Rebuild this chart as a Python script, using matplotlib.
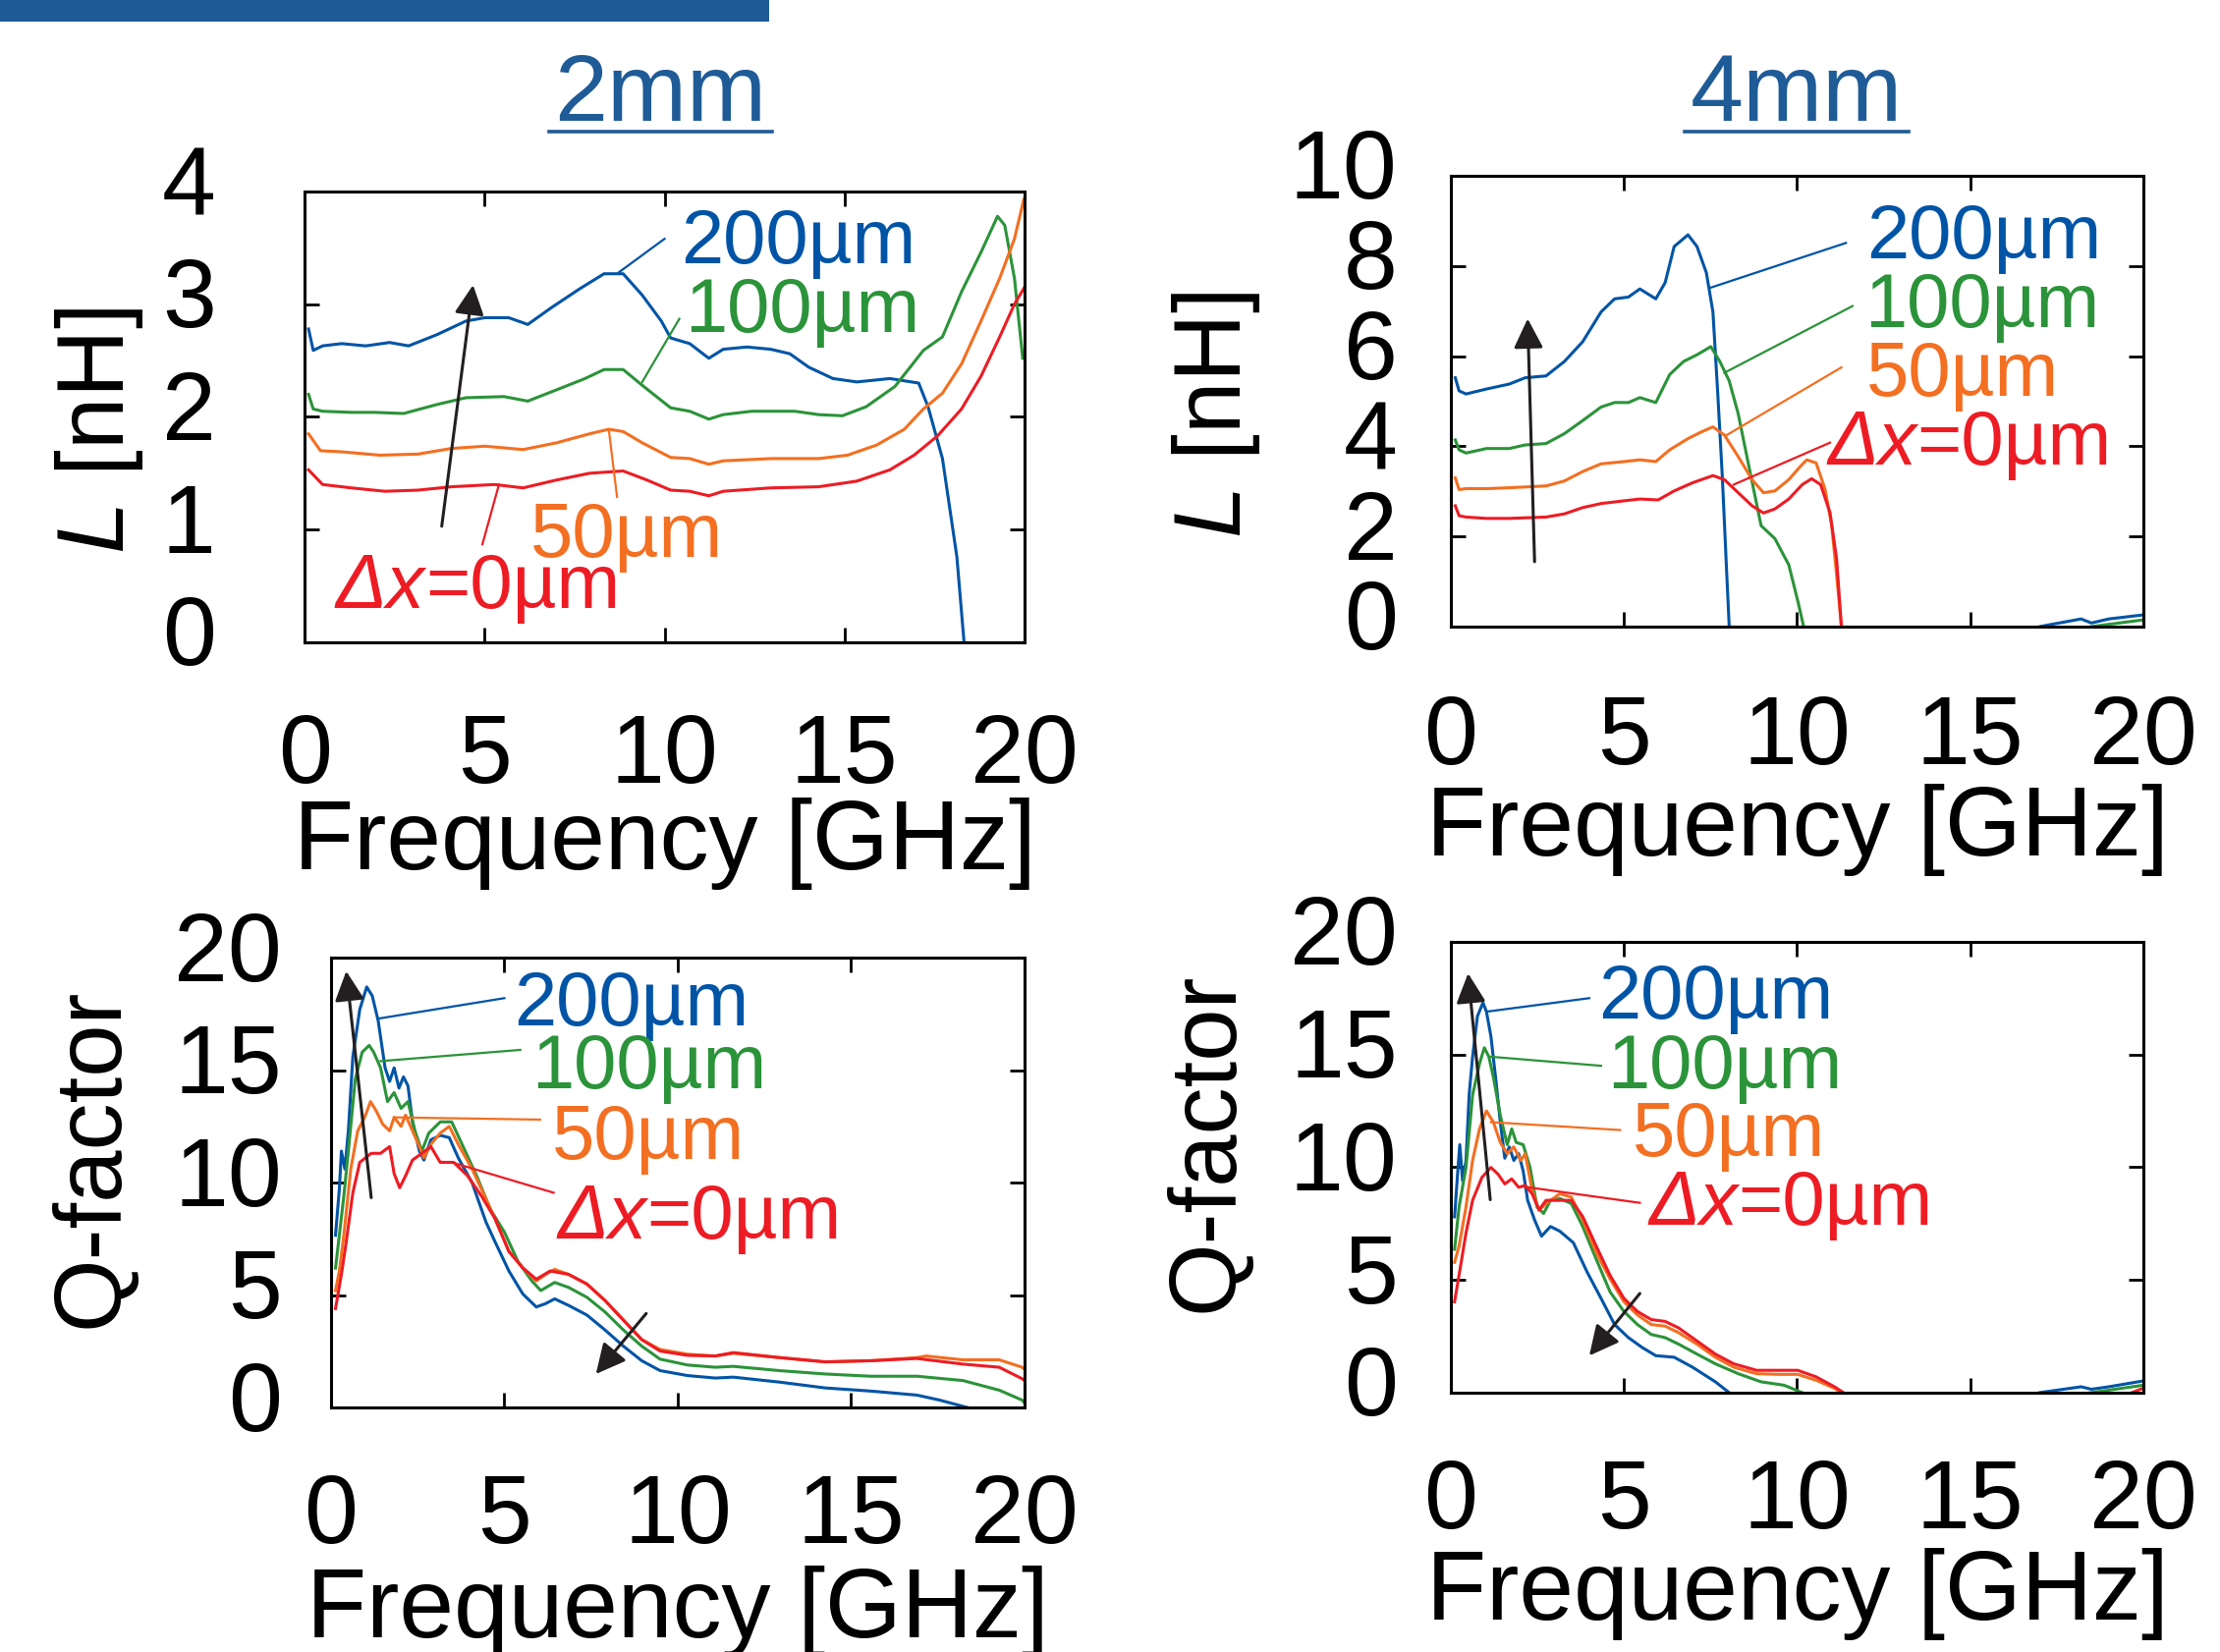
import matplotlib
matplotlib.use("Agg")
import matplotlib.pyplot as plt
import matplotlib.transforms as mtransforms
from matplotlib.patches import Rectangle
from matplotlib.lines import Line2D

plt.rcParams['font.family'] = ['Liberation Sans', 'DejaVu Sans']
plt.rcParams['mathtext.fontset'] = 'custom'
plt.rcParams['mathtext.rm'] = 'Liberation Sans'
plt.rcParams['mathtext.it'] = 'Liberation Sans:italic'

BLUE = '#0054A6'
GREEN = '#2B9339'
ORANGE = '#F36F21'
RED = '#ED1C24'
NAVY = '#1F5B96'
INK = '#231F20'

freq_ticks = [0, 5, 10, 15, 20]
gap_labels = ["200µm", "100µm", "50µm", "=0µm"]

# ---- 2 mm, inductance [nH] ----
f_L2_200 = [0.11, 0.24, 0.50, 1.03, 1.70, 2.36, 2.89, 3.68, 4.48, 5.01, 5.67, 6.20, 6.86, 7.66, 8.32, 8.85,
            9.38, 9.91, 10.17, 10.70, 11.23, 11.63, 12.29, 12.95, 13.48, 14.01, 14.68, 15.34, 16.26, 17.06,
            17.32, 17.72, 18.12, 18.32, 18.45]
L2_200 = [2.78, 2.59, 2.63, 2.65, 2.63, 2.66, 2.63, 2.73, 2.85, 2.88, 2.88, 2.82, 2.97, 3.14, 3.27, 3.27,
          3.08, 2.85, 2.70, 2.65, 2.52, 2.60, 2.62, 2.60, 2.56, 2.44, 2.34, 2.31, 2.34, 2.30,
          2.09, 1.63, 0.76, 0.00, -0.60]
f_L2_100 = [0.11, 0.24, 0.50, 1.30, 1.96, 2.75, 3.68, 4.48, 5.54, 6.20, 7.00, 7.79, 8.32, 8.85, 9.38, 10.17,
            10.70, 11.23, 11.63, 12.42, 13.62, 14.28, 14.94, 15.60, 16.40, 17.19, 17.72, 18.25, 18.79, 19.25,
            19.45, 19.72, 19.95]
L2_100 = [2.20, 2.07, 2.05, 2.04, 2.04, 2.03, 2.11, 2.17, 2.18, 2.14, 2.24, 2.34, 2.42, 2.42, 2.28, 2.08,
          2.05, 1.98, 2.02, 2.05, 2.05, 2.02, 2.01, 2.09, 2.27, 2.59, 2.71, 3.11, 3.46, 3.78,
          3.70, 3.23, 2.52]
f_L2_50 = [0.11, 0.44, 1.03, 2.09, 3.15, 4.08, 5.01, 6.07, 7.00, 7.92, 8.45, 8.85, 9.38, 10.17, 10.70, 11.23,
           11.63, 12.95, 14.28, 15.08, 15.89, 16.66, 17.19, 17.72, 18.25, 18.79, 19.31, 19.72, 19.98]
L2_50 = [1.85, 1.70, 1.69, 1.66, 1.67, 1.72, 1.74, 1.71, 1.77, 1.85, 1.89, 1.87, 1.77, 1.64, 1.63, 1.58,
         1.61, 1.63, 1.63, 1.66, 1.75, 1.89, 2.07, 2.21, 2.47, 2.85, 3.23, 3.58, 3.93]
f_L2_0 = [0.11, 0.50, 1.30, 2.23, 3.15, 4.08, 5.27, 6.07, 7.00, 7.92, 8.85, 9.51, 10.17, 10.70, 11.23, 11.63,
          12.95, 14.28, 15.34, 16.26, 16.93, 17.58, 18.25, 18.79, 19.31, 19.72, 19.98]
L2_0 = [1.53, 1.40, 1.37, 1.34, 1.35, 1.38, 1.40, 1.37, 1.44, 1.50, 1.52, 1.44, 1.35, 1.34, 1.30, 1.34,
        1.37, 1.38, 1.43, 1.53, 1.66, 1.83, 2.07, 2.36, 2.71, 3.00, 3.14]

# ---- 4 mm, inductance [nH] ----
f_L4_200 = [0.13, 0.24, 0.44, 1.03, 1.69, 2.15, 2.75, 3.28, 3.81, 4.34, 4.73, 5.13, 5.46, 5.92, 6.19, 6.45,
            6.85, 7.11, 7.38, 7.57, 7.71, 7.84, 7.97, 8.04, 8.15, 16.5, 17.0, 18.2, 18.5, 19.0, 20.0]
L4_200 = [5.52, 5.23, 5.16, 5.27, 5.38, 5.52, 5.56, 5.88, 6.32, 6.98, 7.27, 7.31, 7.49, 7.27, 7.63, 8.43,
          8.69, 8.43, 7.85, 6.98, 5.16, 3.34, 1.15, 0.00, -1.00, -0.30, 0.00, 0.17, 0.08, 0.17, 0.26]
f_L4_100 = [0.13, 0.24, 0.44, 1.03, 1.69, 2.15, 2.75, 3.28, 3.81, 4.34, 4.73, 5.13, 5.46, 5.92, 6.32, 6.72,
            7.11, 7.51, 7.77, 8.04, 8.30, 8.57, 8.96, 9.36, 9.76, 10.02, 10.19, 10.30, 18.0, 18.5, 20.0]
L4_100 = [4.14, 3.92, 3.85, 3.95, 3.95, 4.03, 4.06, 4.28, 4.57, 4.87, 4.97, 4.97, 5.08, 4.97, 5.59, 5.88,
          6.03, 6.21, 5.88, 5.45, 4.72, 3.70, 2.24, 1.95, 1.37, 0.57, 0.00, -0.50, -0.10, 0.00, 0.15]
f_L4_50 = [0.13, 0.24, 0.44, 1.03, 1.69, 2.75, 3.28, 3.81, 4.34, 5.00, 5.46, 5.92, 6.32, 6.85, 7.24, 7.57,
           7.90, 8.30, 8.70, 9.03, 9.36, 9.76, 10.09, 10.28, 10.55, 10.81, 11.00, 11.14, 11.28, 11.35]
L4_50 = [3.30, 3.04, 3.06, 3.06, 3.08, 3.12, 3.23, 3.44, 3.61, 3.66, 3.70, 3.66, 3.92, 4.17, 4.32, 4.43,
         4.25, 3.77, 3.26, 2.97, 3.01, 3.26, 3.55, 3.70, 3.63, 3.04, 2.24, 1.15, 0.00, -0.50]
f_L4_0 = [0.13, 0.24, 0.44, 1.03, 1.69, 2.75, 3.28, 3.81, 4.34, 5.00, 5.46, 5.99, 6.45, 6.98, 7.57, 7.90,
          8.30, 8.70, 9.03, 9.36, 9.76, 10.15, 10.42, 10.68, 10.95, 11.14, 11.28, 11.35]
L4_0 = [2.68, 2.46, 2.43, 2.40, 2.40, 2.43, 2.50, 2.64, 2.73, 2.79, 2.83, 2.81, 3.01, 3.19, 3.35, 3.26,
        2.97, 2.68, 2.52, 2.61, 2.83, 3.15, 3.28, 3.15, 2.53, 1.51, 0.00, -0.50]

# ---- 2 mm, Q-factor ----
f_Q2_200 = [0.13, 0.24, 0.30, 0.40, 0.50, 0.63, 0.83, 1.03, 1.19, 1.36, 1.56, 1.69, 1.82, 1.96, 2.09, 2.22,
            2.35, 2.55, 2.68, 2.88, 3.15, 3.41, 3.67, 4.07, 4.47, 4.73, 5.13, 5.53, 5.92, 6.19, 6.45, 6.85,
            7.38, 7.90, 8.43, 8.96, 9.49, 10.28, 11.08, 11.60, 12.93, 14.25, 15.57, 16.90, 17.55, 18.35, 18.60]
Q2_200 = [7.66, 9.70, 11.40, 10.60, 12.30, 15.60, 17.70, 18.70, 18.30, 17.20, 15.10, 14.50, 15.10, 14.20,
          14.70, 14.30, 12.70, 11.40, 11.00, 11.90, 12.10, 12.00, 11.10, 9.99, 8.24, 7.37, 6.07, 5.05, 4.47,
          4.62, 4.83, 4.54, 4.11, 3.45, 2.73, 2.08, 1.64, 1.42, 1.31, 1.35, 1.13, 0.87, 0.73, 0.55, 0.33,
          0.00, -0.10]
f_Q2_100 = [0.13, 0.24, 0.37, 0.50, 0.70, 0.90, 1.10, 1.23, 1.43, 1.63, 1.82, 2.02, 2.22, 2.42, 2.62, 2.82,
            3.15, 3.48, 3.81, 4.20, 4.60, 5.00, 5.39, 5.79, 6.05, 6.45, 6.85, 7.38, 7.90, 8.43, 8.96, 9.49,
            10.28, 11.08, 11.60, 12.93, 14.25, 15.57, 16.90, 18.22, 19.27, 19.93, 20.00]
Q2_100 = [6.20, 7.66, 9.40, 11.40, 14.60, 15.80, 16.10, 15.80, 15.10, 13.60, 14.00, 13.30, 13.60, 12.30,
          11.40, 12.20, 12.70, 12.70, 11.60, 10.30, 8.80, 7.80, 6.50, 5.63, 5.20, 5.56, 5.34, 4.90, 4.25,
          3.45, 2.73, 2.15, 1.89, 1.79, 1.83, 1.64, 1.49, 1.39, 1.39, 1.20, 0.77, 0.33, 0.20]
f_Q2_50 = [0.13, 0.24, 0.37, 0.57, 0.77, 0.97, 1.14, 1.30, 1.49, 1.69, 1.82, 2.02, 2.15, 2.35, 2.55, 2.68,
           2.88, 3.15, 3.41, 3.67, 4.07, 4.47, 4.73, 5.13, 5.53, 5.92, 6.19, 6.45, 6.85, 7.38, 7.90, 8.43,
           8.96, 9.49, 10.28, 11.08, 11.60, 12.93, 14.25, 15.57, 16.90, 17.16, 18.22, 19.27, 19.93, 20.00]
Q2_50 = [5.20, 6.07, 7.66, 10.60, 12.30, 12.90, 13.60, 13.20, 12.60, 12.30, 12.90, 12.50, 13.00, 12.30,
         11.60, 11.10, 11.70, 12.20, 12.50, 11.70, 10.60, 9.26, 8.39, 6.94, 6.21, 5.63, 5.92, 6.14, 5.92,
         5.49, 4.76, 3.89, 3.02, 2.58, 2.37, 2.29, 2.41, 2.22, 2.03, 2.08, 2.22, 2.29, 2.12, 2.12, 1.79, 1.70]
f_Q2_0 = [0.13, 0.30, 0.44, 0.63, 0.83, 1.16, 1.43, 1.69, 1.82, 1.98, 2.15, 2.35, 2.62, 2.88, 3.15, 3.54,
          3.94, 4.34, 4.73, 5.13, 5.53, 5.92, 6.32, 6.85, 7.38, 7.90, 8.43, 8.96, 9.49, 10.28, 11.08, 11.60,
          12.93, 14.25, 15.57, 16.90, 18.22, 19.27, 19.93, 20.00]
Q2_0 = [4.40, 5.92, 7.37, 9.55, 10.90, 11.30, 11.30, 11.60, 10.40, 9.77, 10.30, 11.00, 11.30, 11.60, 10.90,
        10.90, 10.30, 9.40, 8.40, 6.94, 6.21, 5.70, 6.07, 5.92, 5.49, 4.76, 3.89, 3.02, 2.51, 2.32, 2.29,
        2.44, 2.22, 2.03, 2.08, 2.18, 1.93, 1.79, 1.28, 1.20]

# ---- 4 mm, Q-factor ----
f_Q4_200 = [0.11, 0.21, 0.26, 0.34, 0.44, 0.53, 0.63, 0.77, 0.93, 1.03, 1.16, 1.30, 1.43, 1.56, 1.69, 1.82,
            1.96, 2.09, 2.22, 2.42, 2.62, 2.88, 3.15, 3.54, 3.94, 4.34, 4.73, 5.13, 5.53, 5.92, 6.45, 6.98,
            7.64, 8.04, 8.30, 16.50, 17.00, 18.20, 18.50, 19.00, 20.00]
Q4_200 = [7.80, 9.99, 11.00, 9.40, 10.30, 13.20, 14.90, 16.70, 17.30, 16.90, 15.80, 13.90, 12.00, 10.40,
          10.90, 10.30, 10.60, 9.84, 8.53, 7.66, 6.94, 7.37, 7.16, 6.65, 5.34, 4.18, 3.02, 2.44, 2.00, 1.64,
          1.57, 1.13, 0.48, 0.00, -0.30, -0.20, 0.00, 0.26, 0.15, 0.26, 0.52]
f_Q4_100 = [0.11, 0.24, 0.44, 0.63, 0.83, 0.97, 1.10, 1.23, 1.43, 1.63, 1.76, 1.89, 2.09, 2.29, 2.49, 2.68,
            2.88, 3.15, 3.48, 3.81, 4.20, 4.60, 5.00, 5.39, 5.79, 6.19, 6.58, 7.11, 7.64, 8.30, 8.96, 9.62,
            10.15, 10.40, 18.00, 18.50, 20.00]
Q4_100 = [6.36, 8.24, 9.99, 13.20, 14.60, 15.30, 14.90, 14.00, 12.30, 11.00, 11.70, 11.10, 11.00, 9.99,
          8.24, 7.95, 8.53, 8.61, 8.39, 7.37, 5.92, 4.47, 3.60, 3.02, 2.58, 2.44, 2.15, 1.71, 1.28, 0.84,
          0.48, 0.33, 0.00, -0.20, -0.10, 0.00, 0.33]
f_Q4_50 = [0.11, 0.24, 0.44, 0.63, 0.83, 1.03, 1.23, 1.43, 1.63, 1.82, 2.02, 2.15, 2.35, 2.55, 2.75, 3.15,
           3.48, 3.81, 4.20, 4.60, 5.00, 5.39, 5.79, 6.19, 6.58, 7.11, 7.64, 8.17, 8.83, 9.49, 10.02, 10.55,
           11.08, 11.28, 11.40]
Q4_50 = [5.78, 6.50, 8.24, 10.30, 11.70, 12.50, 12.00, 11.10, 10.60, 10.90, 10.30, 10.60, 8.97, 8.10, 8.39,
         8.82, 8.68, 7.66, 6.21, 5.05, 4.03, 3.45, 3.02, 2.95, 2.66, 2.15, 1.57, 1.13, 0.84, 0.81, 0.81,
         0.55, 0.19, 0.00, -0.20]
f_Q4_0 = [0.11, 0.30, 0.44, 0.63, 0.90, 1.16, 1.36, 1.56, 1.76, 1.96, 2.15, 2.35, 2.55, 2.75, 3.15, 3.48,
          3.81, 4.20, 4.60, 5.00, 5.39, 5.79, 6.19, 6.58, 7.11, 7.64, 8.17, 8.83, 9.49, 10.02, 10.55, 11.08,
          11.34, 11.45, 19.50, 20.00]
Q4_0 = [4.03, 5.78, 7.08, 8.53, 9.55, 9.99, 9.70, 9.26, 9.48, 9.11, 9.19, 8.82, 8.10, 8.53, 8.53, 8.53,
        7.81, 6.50, 5.20, 4.18, 3.60, 3.24, 3.16, 2.87, 2.29, 1.71, 1.28, 0.99, 0.99, 0.99, 0.70, 0.26,
        0.00, -0.20, -0.10, 0.20]

colors = [BLUE, GREEN, ORANGE, RED]

# layout of each panel: axes rect, y range, tick pads (pt), xlabel offset,
# leader lines (start, end), label anchors, arrows (tail, head)
panels = [
    dict(rect=[0.1372, 0.6112, 0.3243, 0.2729],
         curves=[(f_L2_200, L2_200), (f_L2_100, L2_100), (f_L2_50, L2_50), (f_L2_0, L2_0)],
         ylim=(0, 4), yticks=[0, 1, 2, 3, 4], xpad=52, ypad=65, xlab_y=-0.344,
         ylabel=r"$\mathit{L}$ [nH]", ylab_xy=(0.0447, 0.739),
         leaders=[((8.72, 3.28), (10.0, 3.58)), ((9.38, 2.31), (10.41, 2.87)),
                  ((8.45, 1.89), (8.68, 1.29)), ((5.4, 1.40), (4.94, 0.87))],
         texts=[(10.45, 3.36), (10.57, 2.75), (6.26, 0.76), (0.87, 0.305)],
         arrows=[((3.81, 1.03), (4.68, 3.17))]),
    dict(rect=[0.6535, 0.6207, 0.3120, 0.2729],
         curves=[(f_L4_200, L4_200), (f_L4_100, L4_100), (f_L4_50, L4_50), (f_L4_0, L4_0)],
         ylim=(0, 10), yticks=[0, 2, 4, 6, 8, 10], xpad=50, ypad=39, xlab_y=-0.349,
         ylabel=r"$\mathit{L}$ [nH]", ylab_xy=(0.5478, 0.749),
         leaders=[((7.51, 7.52), (11.41, 8.51)), ((7.90, 5.63), (11.6, 7.11)),
                  ((7.97, 4.25), (11.28, 5.75)), ((8.17, 3.15), (10.95, 4.08))],
         texts=[(12.0, 8.18), (11.94, 6.65), (12.0, 5.12), (10.88, 3.59)],
         arrows=[((2.42, 1.44), (2.22, 6.83))]),
    dict(rect=[0.1491, 0.1480, 0.3124, 0.2723],
         curves=[(f_Q2_200, Q2_200), (f_Q2_100, Q2_100), (f_Q2_50, Q2_50), (f_Q2_0, Q2_0)],
         ylim=(0, 20), yticks=[0, 5, 10, 15, 20], xpad=48, ypad=36, xlab_y=-0.352,
         ylabel="Q-factor", ylab_xy=(0.042, 0.299),
         leaders=[((1.40, 17.3), (5.0, 18.2)), ((1.43, 15.4), (5.46, 15.9)),
                  ((1.82, 12.9), (6.03, 12.8)), ((3.48, 10.9), (6.42, 9.55))],
         texts=[(5.26, 17.0), (5.79, 14.2), (6.38, 11.07), (6.52, 7.52)],
         arrows=[((1.16, 9.33), (0.44, 19.4)), ((9.09, 4.18), (7.64, 1.49))]),
    dict(rect=[0.6535, 0.1570, 0.3120, 0.2729],
         curves=[(f_Q4_200, Q4_200), (f_Q4_100, Q4_100), (f_Q4_50, Q4_50), (f_Q4_0, Q4_0)],
         ylim=(0, 20), yticks=[0, 5, 10, 15, 20], xpad=48, ypad=39, xlab_y=-0.344,
         ylabel="Q-factor", ylab_xy=(0.544, 0.3086),
         leaders=[((1.03, 16.9), (4.0, 17.5)), ((1.16, 14.9), (4.34, 14.5)),
                  ((1.16, 12.0), (4.89, 11.65)), ((2.09, 9.14), (5.46, 8.42))],
         texts=[(4.27, 16.6), (4.53, 13.5), (5.26, 10.5), (5.72, 7.45)],
         arrows=[((1.14, 8.56), (0.50, 18.6)), ((5.46, 4.40), (4.0, 1.64))]),
]

fig = plt.figure(figsize=(22.6, 16.82), dpi=100)
lift = mtransforms.ScaledTranslation(0, 0.12, fig.dpi_scale_trans)

for p in panels:
    ax = fig.add_axes(p['rect'])
    for (f, v), c in zip(p['curves'], colors):
        ax.plot(f, v, color=c, lw=2.2)
    ax.set_xlim(0, 20)
    ax.set_ylim(*p['ylim'])
    ax.set_xticks(freq_ticks)
    ax.set_yticks(p['yticks'])
    ax.tick_params(direction='in', top=True, right=True, length=11, width=2, labelsize=71)
    ax.tick_params(axis='x', pad=p['xpad'])
    ax.tick_params(axis='y', pad=p['ypad'])
    for s in ax.spines.values():
        s.set_linewidth(2.2)
    ax.set_xlabel('Frequency [GHz]', fontsize=72)
    ax.xaxis.set_label_coords(0.5, p['xlab_y'])
    fig.text(p['ylab_xy'][0], p['ylab_xy'][1], p['ylabel'], rotation=90, fontsize=69,
             ha='center', va='center')

    # leader lines and gap labels
    for (a, b), c in zip(p['leaders'], colors):
        ax.plot([a[0], b[0]], [a[1], b[1]], color=c, lw=1.6)
    for i, ((tx, ty), c) in enumerate(zip(p['texts'], colors)):
        if i < 3:
            ax.text(tx, ty, gap_labels[i], color=c, fontsize=56, ha='left', va='baseline')
        else:
            t = ax.text(tx, ty, "Δx", color=c, fontsize=56, fontstyle='italic',
                        ha='left', va='baseline')
            ax.annotate(gap_labels[i], xy=(1, 0), xycoords=t, color=c, fontsize=56,
                        ha='left', va='bottom')

    for tail, head in p['arrows']:
        ax.annotate('', xy=head, xytext=tail,
                    arrowprops=dict(arrowstyle='-|>,head_length=0.4,head_width=0.2',
                                    mutation_scale=46, color=INK, lw=2.2,
                                    shrinkA=0, shrinkB=0))

    # tick numbers sit a little above their ticks in the original
    for lbl in ax.get_yticklabels():
        lbl.set_transform(lbl.get_transform() + lift)

# column headings, underlined
for x, s, x0, x1 in [(0.2973, '2mm', 0.2473, 0.3478), (0.8093, '4mm', 0.7588, 0.8597)]:
    fig.text(x, 0.9269, s, color=NAVY, fontsize=70, ha='center', va='baseline')
    fig.add_artist(Line2D([x0, x1], [0.9203, 0.9203], color=NAVY, lw=2.6,
                          transform=fig.transFigure))

# cut-off banner at the top edge
fig.add_artist(Rectangle((0, 1 - 22 / 1682), 783 / 2260, 22 / 1682, transform=fig.transFigure,
                         color=NAVY, lw=0))

fig.savefig('out.png', dpi=100)
